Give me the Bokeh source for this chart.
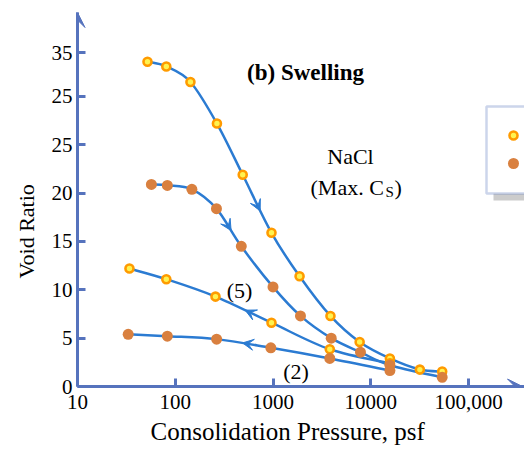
import numpy as np
from bokeh.plotting import figure
from bokeh.models import Range1d, FixedTicker, Label, BoxAnnotation, Arrow, VeeHead, Title
from bokeh.embed import file_html
from bokeh.resources import INLINE

# ---------------- data ----------------
a_x = [52, 81, 143, 267, 490, 965, 1870, 3870, 7700, 15700, 31800, 53800]
a_y = [33.6, 33.1, 31.5, 27.2, 21.9, 15.9, 11.4, 7.3, 4.6, 2.9, 1.75, 1.55]
b_x = [57, 83, 148, 264, 474, 1000, 1910, 3940, 7850, 15700, 53800]
b_y = [20.9, 20.8, 20.4, 18.4, 14.5, 10.3, 7.3, 5.0, 3.55, 2.2, 0.95]
c_x = [34, 81, 258, 965, 3810, 15700]
c_y = [12.2, 11.1, 9.3, 6.6, 3.85, 2.4]
d_x = [33, 83, 265, 950, 3810, 15700]
d_y = [5.4, 5.2, 4.9, 4.0, 2.9, 1.65]

x_ticks = [10, 100, 1000, 10000, 100000]
x_tick_labels = ["10", "100", "1000", "10000", "100,000"]
y_ticks = [0, 5, 10, 15, 20, 25, 30, 34.5]
y_tick_labels = ["0", "5", "10", "15", "20", "25", "25", "35"]

# ---------------- layout ----------------
W, H = 524, 452
FL, FT, FB = 77, 12, 386         # frame left / top / bottom (canvas px)
DEC = 97.75                      # px per decade
PPU = 9.667                      # px per void-ratio unit
X_END = 10 ** (1 + (W - FL) / DEC)
Y_END = (FB - FT) / PPU

AXIS = "#5673BD"
LINE = "#2B7BD2"
ORANGE = "#FF9B00"
YELLOW = "#FFF350"
BROWN = "#D9803F"
FONT = "Liberation Serif"


def dx(px):  # canvas px -> data x
    return 10 ** (1 + (px - FL) / DEC)


def dy(py):  # canvas px -> data y
    return (FB - py) / PPU


p = figure(width=W, height=H, x_axis_type="log",
           x_range=Range1d(10, X_END), y_range=Range1d(0, Y_END),
           output_backend="svg", toolbar_location=None,
           min_border_left=FL, min_border_right=0,
           min_border_top=FT, min_border_bottom=H - FB)
p.outline_line_color = None
p.grid.visible = False
p.background_fill_color = "white"

for ax in (p.xaxis[0], p.yaxis[0]):
    ax.axis_line_color = AXIS
    ax.axis_line_width = 3
    ax.major_tick_line_color = AXIS
    ax.major_tick_line_width = 3
    ax.major_tick_in = 8
    ax.major_tick_out = 0
    ax.minor_tick_line_color = None
    ax.major_label_text_font = FONT
    ax.major_label_text_font_size = "21px"
    ax.major_label_text_color = "black"

p.xaxis.ticker = FixedTicker(ticks=x_ticks)
p.xaxis.major_label_overrides = {t: l for t, l in zip(x_ticks, x_tick_labels)}
p.xaxis.major_label_standoff = 8
p.yaxis.ticker = FixedTicker(ticks=y_ticks)
p.yaxis.major_label_overrides = {t: l for t, l in zip(y_ticks, y_tick_labels)}
p.yaxis.major_label_standoff = 5

# axis titles (side titles, left-aligned with an offset, like the reference)
p.add_layout(Title(text="Void Ratio", align="left", offset=108, standoff=19,
                   text_font=FONT, text_font_size="22px", text_font_style="normal",
                   text_color="black"), "left")
p.add_layout(Title(text="Consolidation Pressure, psf", align="left", offset=73, standoff=8,
                   text_font=FONT, text_font_size="25px", text_font_style="normal",
                   text_color="black"), "below")

# axis arrowheads
p.add_layout(Arrow(x_start=10, y_start=Y_END - 2, x_end=10, y_end=Y_END,
                   line_color=AXIS, line_width=3,
                   end=VeeHead(size=15, fill_color=AXIS, line_color=AXIS, line_width=1)))
p.add_layout(Arrow(x_start=dx(505), y_start=0, x_end=dx(522), y_end=0,
                   line_color=AXIS, line_width=3,
                   end=VeeHead(size=15, fill_color=AXIS, line_color=AXIS, line_width=1)))


# ---------------- smooth curves (Catmull-Rom -> Bezier in log-x space) ----------------
def segments(xs, ys):
    P = np.column_stack([np.log10(xs), np.array(ys, dtype=float)])
    n = len(P)
    segs = []
    for i in range(n - 1):
        p0, p1, p2, p3 = P[max(i - 1, 0)], P[i], P[i + 1], P[min(i + 2, n - 1)]
        segs.append((p1, p1 + (p2 - p0) / 6, p2 - (p3 - p1) / 6, p2))
    return segs


def bez(seg, t):
    p1, c1, c2, p2 = seg
    return (1 - t) ** 3 * p1 + 3 * (1 - t) ** 2 * t * c1 + 3 * (1 - t) * t ** 2 * c2 + t ** 3 * p2


def draw_curve(xs, ys, arrow_seg, arrow_t, backward):
    segs = segments(xs, ys)
    S = np.array([s[0] for s in segs]); C1 = np.array([s[1] for s in segs])
    C2 = np.array([s[2] for s in segs]); E = np.array([s[3] for s in segs])
    p.bezier(x0=10 ** S[:, 0], y0=S[:, 1], x1=10 ** E[:, 0], y1=E[:, 1],
             cx0=10 ** C1[:, 0], cy0=C1[:, 1], cx1=10 ** C2[:, 0], cy1=C2[:, 1],
             line_color=LINE, line_width=2.5)
    seg = segs[arrow_seg]
    d = -0.06 if backward else 0.06
    s = bez(seg, arrow_t - d); e = bez(seg, arrow_t + d)
    p.add_layout(Arrow(x_start=10 ** s[0], y_start=s[1], x_end=10 ** e[0], y_end=e[1],
                       line_alpha=0, line_width=1,
                       end=VeeHead(size=11, fill_color=LINE, line_color=LINE, line_width=1)))


draw_curve(a_x, a_y, 4, 0.55, False)
draw_curve(b_x, b_y, 3, 0.55, False)
draw_curve(c_x, c_y, 2, 0.6, True)
draw_curve(d_x, d_y, 2, 0.55, True)

# markers: hollow first, filled on top
for xs, ys in ((a_x, a_y), (c_x, c_y)):
    p.scatter(xs, ys, size=8, fill_color=YELLOW, line_color=ORANGE, line_width=2.6)
for xs, ys in ((b_x, b_y), (d_x, d_y)):
    p.scatter(xs, ys, size=11, fill_color=BROWN, line_color=None)

# ---------------- legend box (cut at right edge) ----------------
p.add_layout(BoxAnnotation(left=dx(493), right=dx(540), top=dy(193), bottom=dy(200),
                           fill_color="#cccccc", fill_alpha=1, line_color=None, level="underlay"))
p.add_layout(BoxAnnotation(left=dx(486), right=dx(540), top=dy(106), bottom=dy(193),
                           fill_color="white", fill_alpha=1, line_color=AXIS, line_width=2.5,
                           level="underlay"))
p.scatter([dx(513)], [dy(135)], size=8, fill_color=YELLOW, line_color=ORANGE, line_width=2.6)
p.scatter([dx(513)], [dy(163)], size=11, fill_color=BROWN, line_color=None)


# ---------------- texts ----------------
SHIFT = 7  # renderer places the alphabetic baseline slightly lower


def lab(text, px, py, size="22px", align="left", style="normal"):
    p.add_layout(Label(x=dx(px), y=dy(py - SHIFT), text=text, text_font=FONT, text_font_size=size,
                       text_align=align, text_baseline="alphabetic", text_font_style=style,
                       text_color="black"))


lab("(b) Swelling", 305, 79, size="23px", align="center", style="bold")
lab("NaCl", 350, 162.5, align="center")
lab("(Max. C", 310, 194)
lab("S", 385, 198.5, size="15px")
lab(")", 394, 194)
lab("(5)", 239, 297, align="center")
lab("(2)", 295.5, 378, align="center")

open("out.html", "w").write(file_html(p, INLINE))
